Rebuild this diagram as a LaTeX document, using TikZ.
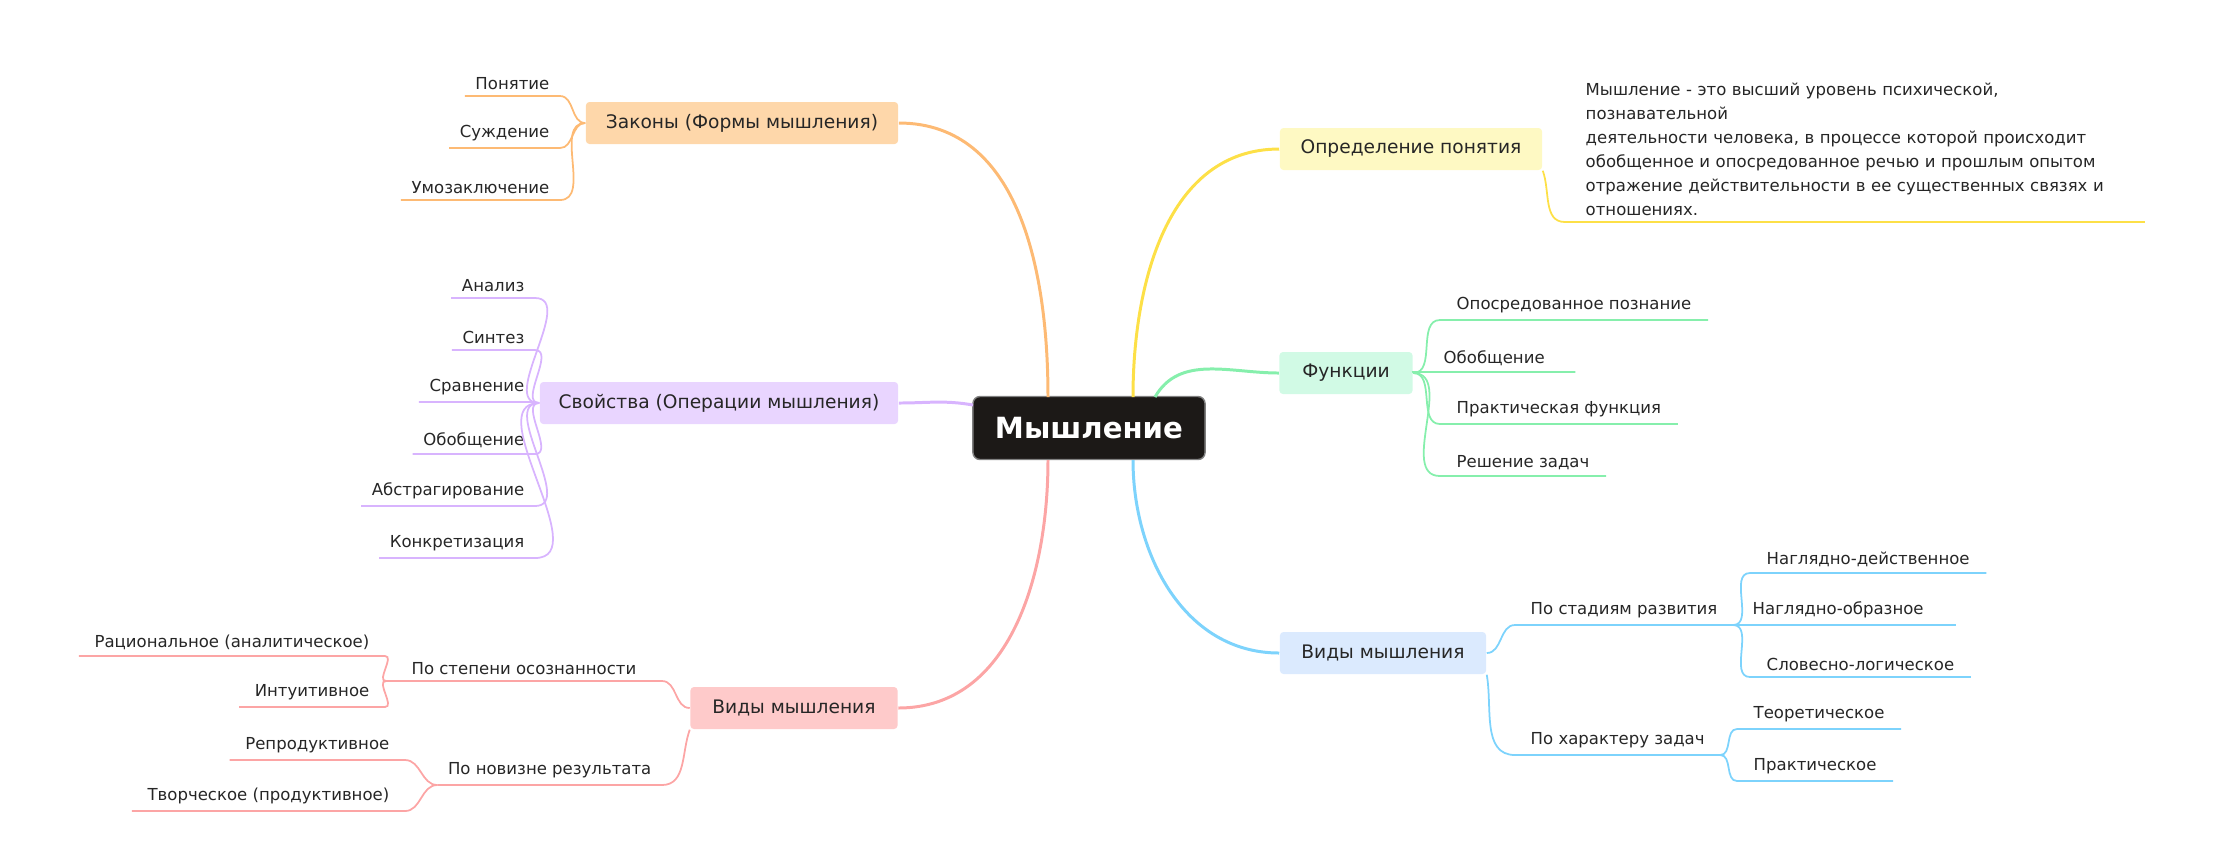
\documentclass[tikz,border=0pt]{standalone}
\usepackage{fontspec}
\setmainfont{DejaVu Sans}
\usepackage{xcolor}
\usetikzlibrary{positioning,calc}

\definecolor{orfill}{HTML}{FED7AA}\definecolor{orline}{HTML}{FDBA74}
\definecolor{pufill}{HTML}{E9D5FF}\definecolor{puline}{HTML}{D8B4FE}
\definecolor{rdfill}{HTML}{FECACA}\definecolor{rdline}{HTML}{FCA5A5}
\definecolor{yefill}{HTML}{FEF9C3}\definecolor{yeline}{HTML}{FDE047}
\definecolor{gnfill}{HTML}{D1FAE5}\definecolor{gnline}{HTML}{86EFAC}
\definecolor{blfill}{HTML}{DBEAFE}\definecolor{blline}{HTML}{7DD3FC}
\definecolor{rootfill}{HTML}{1C1917}\definecolor{txt}{HTML}{262626}

\begin{document}
\begin{tikzpicture}[x=0.01cm, y=-0.01cm,
    topic/.style={rectangle, rounded corners=1pt, minimum height=0.42cm, inner sep=0pt, font=\fontsize{5.3}{6.5}\selectfont, text=txt},
    leaf/.style={inner xsep=0.1cm, inner ysep=0.06cm, font=\fontsize{4.7}{6}\selectfont, text=txt},
    main/.style={line width=0.85pt},
    twig/.style={line width=0.5pt}
]
    \useasboundingbox (0,0) rectangle (2238,856);

    % Root
    \node[rectangle, rounded corners=2pt, fill=rootfill, draw=gray, minimum width=2.32cm, minimum height=0.63cm,
          text=white, font=\fontsize{8.3}{10}\selectfont\bfseries] (root) at (1089,428) {Мышление};
    \coordinate (rnw) at (1048,397);
    \coordinate (rw) at (973,405);
    \coordinate (rsw) at (1048,460);
    \coordinate (rne) at (1133,397);
    \coordinate (rnf) at (1155,397);
    \coordinate (rse) at (1133,460);

    % Main topics
    \node[topic, fill=orfill, minimum width=3.12cm] (laws) at (742,123) {Законы (Формы мышления)};
    \node[topic, fill=pufill, minimum width=3.58cm] (props) at (719,403) {Свойства (Операции мышления)};
    \node[topic, fill=rdfill, minimum width=2.07cm] (kindsl) at (794,708) {Виды мышления};
    \node[topic, fill=yefill, minimum width=2.62cm] (defn) at (1411,149) {Определение понятия};
    \node[topic, fill=gnfill, minimum width=1.33cm] (funcs) at (1346,373) {Функции};
    \node[topic, fill=blfill, minimum width=2.06cm] (kindsr) at (1383,653) {Виды мышления};

    \draw[main, orline] (rnw) to[out=90, in=0] (laws.east);
    \draw[main, puline] (rw) to[out=170, in=0] (props.east);
    \draw[main, rdline] (rsw) to[out=-90, in=0] (kindsl.east);
    \draw[main, yeline] (rne) to[out=90, in=180] (defn.west);
    \draw[main, gnline] (rnf) to[out=60, in=180] (funcs.west);
    \draw[main, blline] (rse) to[out=-90, in=180] (kindsr.west);

    % Laws leaves
    \node[leaf, anchor=south east] (l1) at (560,96) {Понятие};
    \node[leaf, anchor=south east] (l2) at (560,148) {Суждение};
    \node[leaf, anchor=south east] (l3) at (560,200) {Умозаключение};
    \foreach \n in {l1,l2,l3}
        \draw[twig, orline] (laws.west) to[out=180, in=0] (\n.south east) -- (\n.south west);

    % Properties leaves
    \node[leaf, anchor=south east] (p1) at (535,298) {Анализ};
    \node[leaf, anchor=south east] (p2) at (535,350) {Синтез};
    \node[leaf, anchor=south east] (p3) at (535,402) {Сравнение};
    \node[leaf, anchor=south east] (p4) at (535,454) {Обобщение};
    \node[leaf, anchor=south east] (p5) at (535,506) {Абстрагирование};
    \node[leaf, anchor=south east] (p6) at (535,558) {Конкретизация};
    \foreach \n in {p1,p2,p3,p4,p5,p6}
        \draw[twig, puline] (props.west) to[out=180, in=0] (\n.south east) -- (\n.south west);

    % Kinds (left)
    \node[leaf, anchor=south east, inner xsep=0.25cm] (k1) at (662,681) {По степени осознанности};
    \node[leaf, anchor=south east, inner xsep=0.1cm] (k2) at (662,785) {По новизне результата};
    \draw[twig, rdline] (kindsl.west) to[out=180, in=0] (k1.south east) -- (k1.south west);
    \draw[twig, rdline] (kindsl.south west) to[out=-110, in=0] (k2.south east) -- (k2.south west);
    \node[leaf, anchor=south east, inner xsep=0.15cm] (k11) at (385,656) {Рациональное (аналитическое)};
    \node[leaf, anchor=south east, inner xsep=0.15cm] (k12) at (385,707) {Интуитивное};
    \node[leaf, anchor=south east, inner xsep=0.15cm] (k21) at (405,760) {Репродуктивное};
    \node[leaf, anchor=south east, inner xsep=0.15cm] (k22) at (405,811) {Творческое (продуктивное)};
    \foreach \n in {k11,k12}
        \draw[twig, rdline] (k1.south west) to[out=180, in=0] (\n.south east) -- (\n.south west);
    \foreach \n in {k21,k22}
        \draw[twig, rdline] (k2.south west) to[out=180, in=0] (\n.south east) -- (\n.south west);

    % Definition
    \node[leaf, anchor=south west, inner xsep=0.2cm, text width=5.38cm, align=left,
          font=\fontsize{4.7}{6.8}\selectfont] (d1) at (1565,222)
        {Мышление - это высший уровень психической, познавательной\\
         деятельности человека, в процессе которой происходит\\
         обобщенное и опосредованное речью и прошлым опытом\\
         отражение действительности в ее существенных связях и\\
         отношениях.};
    \draw[twig, yeline] (defn.south east) to[out=-70, in=180] (d1.south west) -- (d1.south east);

    % Functions
    \node[leaf, anchor=south west, inner xsep=0.16cm] (f1) at (1440,320) {Опосредованное познание};
    \node[leaf, anchor=south west, inner xsep=0.3cm] (f2) at (1413,372) {Обобщение};
    \node[leaf, anchor=south west, inner xsep=0.16cm] (f3) at (1440,424) {Практическая функция};
    \node[leaf, anchor=south west, inner xsep=0.16cm] (f4) at (1440,476) {Решение задач};
    \foreach \n in {f1,f2,f3,f4}
        \draw[twig, gnline] (funcs.east) to[out=0, in=180] (\n.south west) -- (\n.south east);

    % Kinds (right)
    \node[leaf, anchor=south west, inner xsep=0.15cm] (r1) at (1515,625) {По стадиям развития};
    \node[leaf, anchor=south west, inner xsep=0.15cm] (r2) at (1515,755) {По характеру задач};
    \draw[twig, blline] (kindsr.east) to[out=0, in=180] (r1.south west) -- (r1.south east);
    \draw[twig, blline] (kindsr.south east) to[out=-80, in=180] (r2.south west) -- (r2.south east);
    \node[leaf, anchor=south west, inner xsep=0.16cm] (r11) at (1750,573) {Наглядно-действенное};
    \node[leaf, anchor=south west, inner xsep=0.32cm] (r12) at (1720,625) {Наглядно-образное};
    \node[leaf, anchor=south west, inner xsep=0.16cm] (r13) at (1750,677) {Словесно-логическое};
    \node[leaf, anchor=south west, inner xsep=0.16cm] (r21) at (1737,729) {Теоретическое};
    \node[leaf, anchor=south west, inner xsep=0.16cm] (r22) at (1737,781) {Практическое};
    \foreach \n in {r11,r12,r13}
        \draw[twig, blline] (r1.south east) to[out=0, in=180] (\n.south west) -- (\n.south east);
    \foreach \n in {r21,r22}
        \draw[twig, blline] (r2.south east) to[out=0, in=180] (\n.south west) -- (\n.south east);
\end{tikzpicture}
\end{document}
